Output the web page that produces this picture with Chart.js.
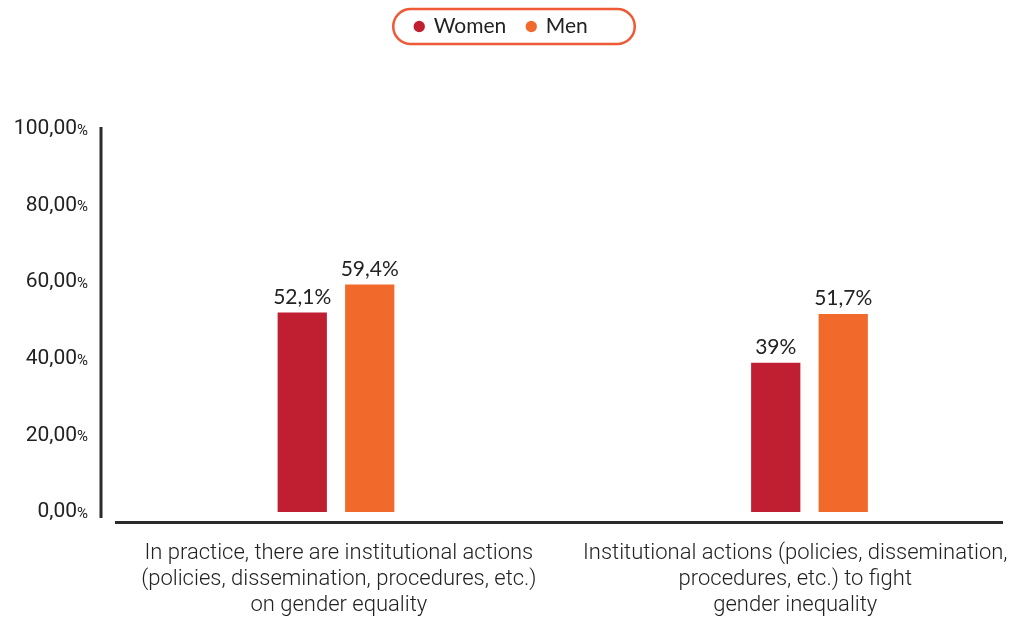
<!DOCTYPE html>
<html>
<head>
<meta charset="utf-8">
<script src="https://cdn.jsdelivr.net/npm/chart.js@4.4.1/dist/chart.umd.min.js"></script>
<style>
  html, body { margin: 0; padding: 0; background: #fff; }
  #wrap { width: 1010px; height: 618px; }
</style>
</head>
<body>
<div id="wrap"><canvas id="bar-chart" width="1010" height="618"></canvas></div>
<script>
// data
const categories = [
    ["In practice, there are institutional actions", "(policies, dissemination, procedures, etc.)", "on gender equality"],
    ["Institutional actions (policies, dissemination,", "procedures, etc.) to fight", "gender inequality"]
]
const women = [52.1, 39]
const men = [59.4, 51.7]
const womenLabels = ["52,1%", "39%"]
const menLabels = ["59,4%", "51,7%"]
const yTicks = [0, 20, 40, 60, 80, 100]
const yTickLabels = ["0,00", "20,00", "40,00", "60,00", "80,00", "100,00"]

const RED = "#c01f32"
const ORANGE = "#f26a2b"
const INK = "#222"

// pill around the legend
const legendPill = {
    id: 'legendPill',
    beforeInit(chart) {
        const fit = chart.legend.fit
        chart.legend.fit = function () {
            fit.bind(chart.legend)()
            this.height += 82
        }
    },
    afterDraw(chart) {
        const boxes = chart.legend.legendHitBoxes
        if (!boxes || !boxes.length) return
        const first = boxes[0], last = boxes[boxes.length - 1]
        const x0 = first.left - 22, x1 = last.left + last.width + 47
        const y0 = first.top - 7, y1 = first.top + first.height + 7
        const r = (y1 - y0) / 2
        const ctx = chart.ctx
        ctx.save()
        ctx.strokeStyle = "#ee5a36"
        ctx.lineWidth = 2.5
        ctx.beginPath()
        ctx.roundRect(x0, y0, x1 - x0, y1 - y0, r)
        ctx.stroke()
        ctx.restore()
    }
}

// axis lines, y tick labels (small %), value labels
const decor = {
    id: 'decor',
    afterDraw(chart) {
        const ctx = chart.ctx
        const a = chart.chartArea
        const y = chart.scales.y
        ctx.save()
        ctx.strokeStyle = "#2b2b2b"
        ctx.lineWidth = 3
        ctx.beginPath()
        ctx.moveTo(a.left, a.top - 2)
        ctx.lineTo(a.left, a.bottom + 6)
        ctx.stroke()
        ctx.beginPath()
        ctx.moveTo(a.left + 14, a.bottom + 10.5)
        ctx.lineTo(a.right, a.bottom + 10.5)
        ctx.stroke()

        ctx.fillStyle = INK
        ctx.textBaseline = 'middle'
        yTicks.forEach((v, i) => {
            const py = y.getPixelForValue(v)
            ctx.textAlign = 'right'
            ctx.font = "15px Roboto"
            ctx.fillText("%", 88, py + 2)
            const pw = ctx.measureText("%").width
            ctx.font = "21px Roboto"
            ctx.fillText(yTickLabels[i], 88 - pw, py)
        })

        ctx.textAlign = 'center'
        ctx.textBaseline = 'bottom'
        ctx.font = "21px Lato"
        const sets = [womenLabels, menLabels]
        chart.data.datasets.forEach((ds, di) => {
            chart.getDatasetMeta(di).data.forEach((bar, i) => {
                ctx.fillText(sets[di][i], bar.x, bar.y - 5)
            })
        })
        ctx.restore()
    }
}

let ctx = document.getElementById('bar-chart').getContext('2d')

let barChart = new Chart(ctx, {
    type: 'bar',
    data: {
        datasets: [{
            label: "Women",
            backgroundColor: RED,
            data: women.map((v, i) => ({ x: i, y: v }))
        }, {
            label: "Men",
            backgroundColor: ORANGE,
            data: men.map((v, i) => ({ x: i, y: v }))
        }]
    },
    options: {
        responsive: false,
        animation: false,
        layout: { padding: { top: -5, right: 7, bottom: 2, left: 0 } },
        datasets: {
            bar: { categoryPercentage: 0.2957, barPercentage: 0.73 }
        },
        plugins: {
            legend: {
                position: 'top',
                labels: {
                    usePointStyle: true,
                    pointStyle: 'circle',
                    boxWidth: 8,
                    boxHeight: 8,
                    padding: 21,
                    color: INK,
                    font: { family: "Lato", size: 21 }
                }
            },
            tooltip: { enabled: false }
        },
        scales: {
            x: {
                type: 'linear',
                offset: false,
                min: -0.4963,
                max: 1.4087,
                grid: { display: false, drawTicks: false, offset: false },
                border: { display: false },
                afterBuildTicks(scale) {
                    scale.ticks = [{ value: 0.006 }, { value: 0.97 }]
                },
                afterFit(scale) {
                    scale.height = 104
                    scale.paddingLeft = 0
                    scale.paddingRight = 0
                },
                ticks: {
                    padding: 29,
                    maxRotation: 0,
                    autoSkip: false,
                    color: INK,
                    font: { family: "Roboto", weight: 300, size: 22, lineHeight: 1.18 },
                    callback: (v, i) => categories[i]
                }
            },
            y: {
                min: 0,
                max: 100,
                grid: { display: false, drawTicks: false },
                border: { display: false },
                ticks: { display: false, stepSize: 20 },
                afterFit(scale) { scale.width = 101 }
            }
        }
    },
    plugins: [legendPill, decor]
})
</script>
</body>
</html>
